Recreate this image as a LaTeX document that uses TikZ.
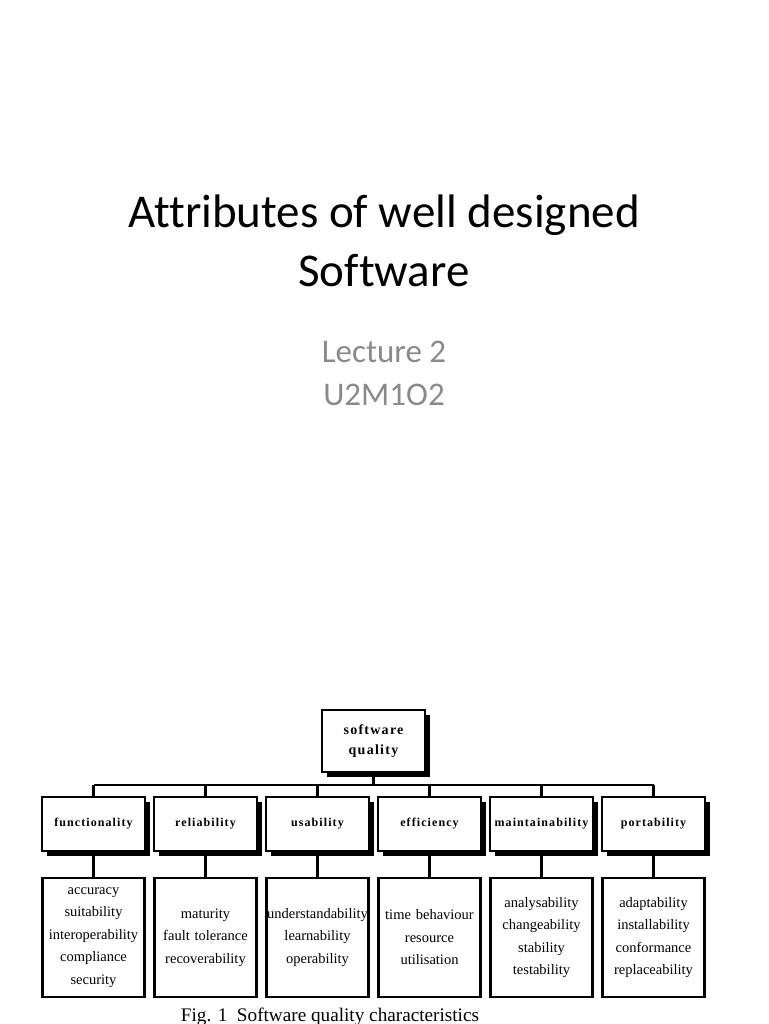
\documentclass[tikz,border=0pt]{standalone}
\usepackage{fontspec}
\setmainfont{Liberation Serif}
\newfontfamily\slidefont[Ligatures=NoCommon]{Carlito}
\newfontfamily\headfont[LetterSpace=9]{Liberation Serif}
\usetikzlibrary{shadows}
\definecolor{subgray}{HTML}{8A8A8A}
\tikzset{
  topbox/.style={draw, line width=2.4pt, fill=white, minimum width=103pt, minimum height=54pt,
    font=\headfont\bfseries\fontsize{12}{20}\selectfont, align=center,
    drop shadow={shadow xshift=4.5pt, shadow yshift=-4.5pt, fill=black, opacity=1}},
  listbox/.style={draw, line width=2.2pt, text width=102pt, inner xsep=0pt, minimum height=119pt,
    font=\fontsize{14.5}{22.5}\selectfont, align=center},
  link/.style={line width=2.2pt}
}
\begin{document}
\begin{tikzpicture}[x=1pt, y=-1pt]
	\useasboundingbox (0,0) rectangle (768,1024);
	% slide title
	\node[anchor=base, font=\slidefont\fontsize{47}{52}\selectfont] (title) at (384,228) {Attributes of well designed};
	\node[anchor=base, font=\slidefont\fontsize{47}{52}\selectfont] (title2) at (384,286) {Software};
	\node[anchor=base, font=\slidefont\fontsize{33}{40}\selectfont, text=subgray] (lecture) at (384,362) {Lecture 2};
	\node[anchor=base, font=\slidefont\fontsize{33}{40}\selectfont, text=subgray] (code) at (384,405) {U2M1O2};
	% quality tree
	\node[topbox, minimum height=62pt, font=\headfont\bfseries\fontsize{14}{20.5}\selectfont] (root) at (373.5,741) {software\\quality};
	\coordinate (bus) at (373.5,785);
	\foreach \head/\items [count=\i] in {
		functionality/{accuracy\\suitability\\interoperability\\compliance\\security},
		reliability/{maturity\\fault tolerance\\recoverability},
		usability/{understandability\\learnability\\operability},
		efficiency/{time behaviour\\resource\\utilisation},
		maintainability/{analysability\\changeability\\stability\\testability},
		portability/{adaptability\\installability\\conformance\\replaceability}}
	{
		\node[topbox] (f\i) at ({93.5+112*(\i-1)},824) {\head};
		\node[listbox] (l\i) at ({93.5+112*(\i-1)},937.5) {\items};
		\draw[link] (f\i.south) -- (l\i.north);
		\draw[link] (f\i.north) -- (f\i.north |- bus);
	}
	\draw[link] (root.south) -- (bus);
	\draw[link] (f1.north |- bus) -- (f6.north |- bus);
	\node[anchor=base, font=\fontsize{19.2}{22}\selectfont] (caption) at (330,1021) {Fig. 1\ \ Software quality characteristics};
\end{tikzpicture}
\end{document}
